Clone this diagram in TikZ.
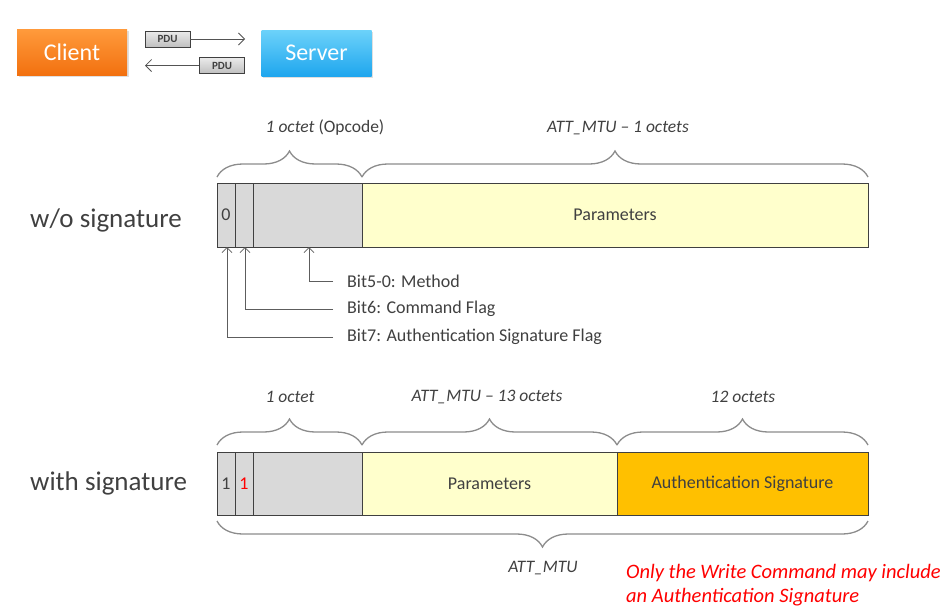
\documentclass[tikz,border=0pt]{standalone}
\usepackage{fontspec}
\setmainfont{Carlito}
\usetikzlibrary{decorations.pathreplacing,arrows.meta,shadows}
\definecolor{txt}{HTML}{404040}
\definecolor{cellgray}{HTML}{D9D9D9}
\definecolor{paramyel}{HTML}{FFFFCC}
\definecolor{sigorange}{HTML}{FFC000}
\definecolor{bracegray}{HTML}{8C8C8C}
\definecolor{cltop}{HTML}{FF9A3C}
\definecolor{clbot}{HTML}{F2700E}
\definecolor{svtop}{HTML}{6CD2FA}
\definecolor{svbot}{HTML}{1FA6EE}
\begin{document}
\begin{tikzpicture}[x=1pt,y=-1pt,
  actor/.style={minimum width=110pt, minimum height=46pt, inner sep=0, text=white,
    font=\fontsize{24}{28}\selectfont, drop shadow={opacity=0.25, shadow xshift=1.5pt, shadow yshift=-1.5pt}},
  pdu/.style={draw=txt, line width=0.8pt, top color=white!92!black, bottom color=white!75!black,
    minimum width=45pt, minimum height=16pt, inner sep=0, text=txt, font=\bfseries\fontsize{11}{13}\selectfont},
  arr/.style={draw=txt!90, line width=0.8pt, -{Straight Barb[length=6pt,width=12pt]}},
  cell/.style={draw=txt, line width=0.9pt, minimum height=64pt, inner sep=0, outer sep=0,
    text=txt, font=\fontsize{18}{21}\selectfont},
  brc/.style={decorate, decoration={brace, amplitude=26pt}, draw=bracegray, line width=1.3pt},
  lbl/.style={text=txt, font=\itshape\fontsize{17.5}{20}\selectfont, inner sep=0},
  rowlbl/.style={text=txt, font=\fontsize{27}{30}\selectfont, anchor=west, inner sep=0},
  bitlbl/.style={text=txt, font=\fontsize{18}{21}\selectfont, anchor=west, inner xsep=14pt, inner ysep=0},
  bitarr/.style={draw=txt!85, line width=0.8pt, -{Straight Barb[length=5pt,width=10pt]}}
]
\useasboundingbox (0,0) rectangle (951,608);

% --- Client / Server ---
\node[actor, top color=cltop, bottom color=clbot] (client) at (72,52.5) {Client};
\node[actor, top color=svtop, bottom color=svbot] (server) at (316.5,53) {Server};
\node[pdu] (pdu1) at (167.5,39) {PDU};
\node[pdu] (pdu2) at (222,65.5) {PDU};
\coordinate (e1) at (245,39);
\coordinate (e2) at (145,65.5);
\draw[arr] (pdu1.east) -- (e1);
\draw[arr] (pdu2.west) -- (e2);

% --- Row 1: without signature ---
\node[rowlbl] (wo) at (30,220) {w/o signature};
\node[cell, fill=cellgray, minimum width=18pt, text depth=0pt] (c0a) at (226,215) {0};
\node[cell, fill=cellgray, minimum width=18pt] (c0b) at (244,215) {};
\node[cell, fill=cellgray, minimum width=109pt] (c0c) at (307.5,215) {};
\node[cell, fill=paramyel, minimum width=506pt] (p1) at (615,215) {Parameters};

\draw[brc] ([yshift=6pt]c0a.north west) -- ([yshift=6pt]c0c.north east);
\draw[brc] ([yshift=6pt]p1.north west) -- ([yshift=6pt]p1.north east);
\node[lbl] (l1) at (325,128) {1 octet \upshape(Opcode)};
\node[lbl] (l2) at (618,128) {ATT\_MTU – 1 octets};

\node[bitlbl] (b50) at (333,281) {Bit5-0: Method};
\node[bitlbl] (b6) at (333,309) {Bit6: Command Flag};
\node[bitlbl] (b7) at (333,337) {Bit7: Authentication Signature Flag};
\draw[bitarr] (b50.west) -| ([xshift=1.5pt]c0c.south);
\draw[bitarr] (b6.west) -| ([xshift=1pt]c0b.south);
\draw[bitarr] (b7.west) -| ([xshift=1pt]c0a.south);

% --- Row 2: with signature ---
\node[rowlbl] (ws) at (30,483) {with signature};
\node[cell, fill=cellgray, minimum width=18pt, minimum height=63pt] (c1a) at (226,483.5) {1};
\node[cell, fill=cellgray, minimum width=18pt, minimum height=63pt, text=red] (c1b) at (244,483.5) {1};
\node[cell, fill=cellgray, minimum width=109pt, minimum height=63pt] (c1c) at (307.5,483.5) {};
\node[cell, fill=paramyel, minimum width=255pt, minimum height=63pt] (p2) at (489.5,483.5) {Parameters};
\node[cell, fill=sigorange, minimum width=251pt, minimum height=63pt] (a2) at (742.5,483.5) {Authentication Signature};

\draw[brc] ([yshift=7pt]c1a.north west) -- ([yshift=7pt]c1c.north east);
\draw[brc] ([yshift=7pt]p2.north west) -- ([yshift=7pt]p2.north east);
\draw[brc] ([yshift=7pt]a2.north west) -- ([yshift=7pt]a2.north east);
\node[lbl] (l3) at (290,397) {1 octet};
\node[lbl] (l4) at (487,397) {ATT\_MTU – 13 octets};
\node[lbl] (l5) at (743,397) {12 octets};

\draw[brc] ([yshift=-6pt]a2.south east) -- ([yshift=-6pt]c1a.south west);
\node[lbl] (l6) at (543,568) {ATT\_MTU};

\node[text=red, font=\itshape\fontsize{20.5}{24}\selectfont, align=left, anchor=north west, inner sep=0]
  (note) at (626,564) {Only the Write Command may include\\an Authentication Signature};
\end{tikzpicture}
\end{document}
